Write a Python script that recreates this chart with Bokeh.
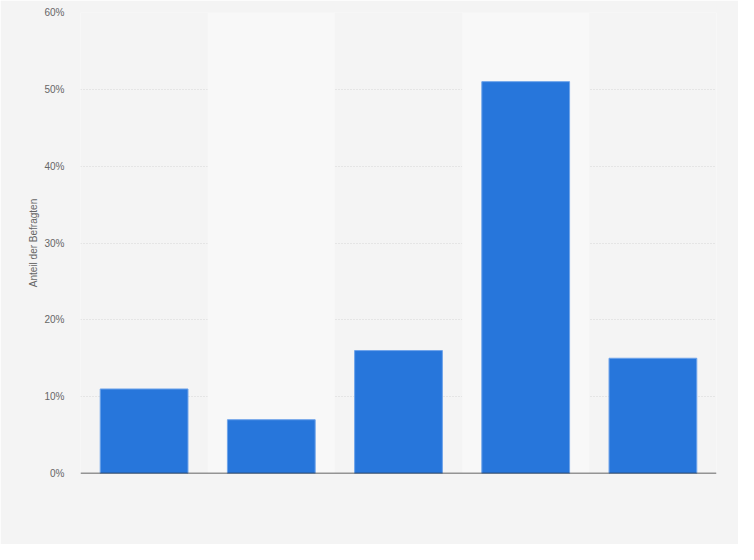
from bokeh.plotting import figure
from bokeh.models import Range1d, FixedTicker, PrintfTickFormatter, Span, BoxAnnotation, ColumnDataSource
from bokeh.embed import file_html
from bokeh.resources import INLINE

categories = ["Kategorie 1", "Kategorie 2", "Kategorie 3", "Kategorie 4", "Kategorie 5"]
values = [11, 7, 16, 51, 15]
y_ticks = [0, 10, 20, 30, 40, 50, 60]

BG = "#f4f4f4"
xpos = [i + 0.5 for i in range(len(categories))]
src = ColumnDataSource(dict(x=xpos, top=values, cat=categories))

p = figure(width=738, height=544, output_backend="svg", toolbar_location=None,
           x_range=Range1d(0, len(categories)), y_range=Range1d(0, 60),
           min_border_left=80, min_border_right=22, min_border_top=12, min_border_bottom=71)
p.background_fill_color = BG
p.border_fill_color = BG
p.outline_line_color = None

for i in range(1, len(categories), 2):
    p.add_layout(BoxAnnotation(left=i, right=i + 1, fill_color="#f8f8f8", fill_alpha=1,
                               line_color=None, level="underlay"))

p.vbar(x="x", top="top", width=0.69, source=src, fill_color="#2776db",
       line_color="#6ea3ea", line_width=1)

p.xaxis.visible = False
p.xgrid.visible = False
p.ygrid.ticker = FixedTicker(ticks=y_ticks)
p.ygrid.grid_line_color = "#d6d6d6"
p.ygrid.grid_line_dash = "1 2"

ax = p.yaxis[0]
ax.ticker = FixedTicker(ticks=y_ticks)
ax.formatter = PrintfTickFormatter(format="%d%%")
ax.axis_line_color = None
ax.major_tick_line_color = None
ax.minor_tick_line_color = None
ax.major_label_text_font = "Liberation Sans"
ax.major_label_text_font_size = "10px"
ax.major_label_text_color = "#666666"
ax.major_label_standoff = 10
ax.axis_label = "Anteil der Befragten"
ax.axis_label_text_font = "Liberation Sans"
ax.axis_label_text_font_size = "10px"
ax.axis_label_text_font_style = "normal"
ax.axis_label_text_color = "#666666"
ax.axis_label_standoff = 2

p.add_layout(Span(location=0, dimension="width", line_color="#333333", line_width=1.5))

html = file_html(p, INLINE)
html = html.replace("<body>", '<body style="background:%s">' % BG, 1)
open("out.html", "w").write(html)
